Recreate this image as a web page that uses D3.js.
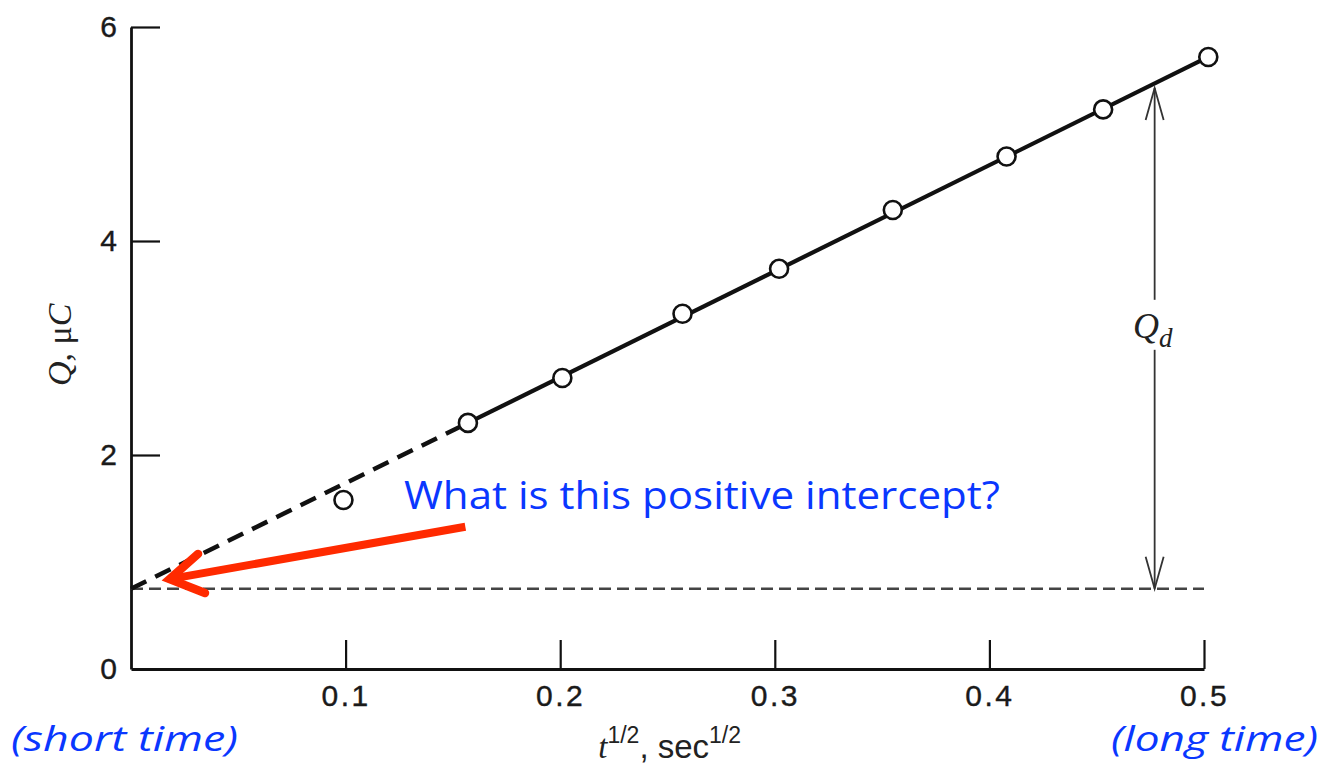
<!DOCTYPE html>
<html>
<head>
<meta charset="utf-8">
<script src="https://cdn.jsdelivr.net/npm/d3@7"></script>
<style>
  html, body { margin: 0; padding: 0; background: #fff; }
  svg { display: block; }
</style>
</head>
<body>
<svg id="chart" width="1324" height="765"></svg>
<script>
// Chronocoulometric charge Q vs t^1/2
const tHalf  = [0.099, 0.157, 0.201, 0.257, 0.302, 0.355, 0.408, 0.453, 0.502];
const charge = [1.58, 2.30, 2.72, 3.32, 3.74, 4.29, 4.79, 5.23, 5.72];

// Linear fit: extrapolated (dashed) part and fitted (solid) part
const fitDashed = [[0, 0.75], [0.157, 2.30]];
const fitSolid  = [[0.157, 2.30], [0.502, 5.72]];

// Intercept level (dashed reference) and the Q_d span
const interceptQ = 0.75;
const baselineX  = [0, 0.5];
const qdX = 0.477, qdTop = 5.43, qdLabelQ = 3.17;

// Annotation arrow: from the question text toward the intercept
const noteArrow = [[0.1558, 1.33], [0.018, 0.84]];

const xTicks = [0.1, 0.2, 0.3, 0.4, 0.5];
const yTicks = [0, 2, 4, 6];

const svg = d3.select("#chart");
const x = d3.scaleLinear().domain([0, 0.5]).range([131, 1204]);
const y = d3.scaleLinear().domain([0, 6]).range([669, 27]);

const ink = "#111";

// Axes
const xAxis = svg.append("g").attr("transform", `translate(0,${y(0)})`)
  .call(d3.axisBottom(x).tickValues(xTicks).tickFormat(d3.format(".1f"))
    .tickSizeInner(-29).tickSizeOuter(0).tickPadding(16));
const yAxis = svg.append("g").attr("transform", `translate(${x(0)},0)`)
  .call(d3.axisLeft(y).tickValues(yTicks).tickFormat(d3.format("d"))
    .tickSizeInner(-29).tickSizeOuter(0).tickPadding(14));

[xAxis, yAxis].forEach(g => {
  g.attr("font-size", null).attr("font-family", null);
  g.select(".domain").attr("stroke", ink).attr("stroke-width", 2.8);
  g.selectAll(".tick line").attr("stroke", ink).attr("stroke-width", 2.2);
  g.selectAll(".tick text").attr("fill", "#1a1a1a")
    .attr("stroke", "#1a1a1a").attr("stroke-width", 0.4)
    .style("font-family", "'Liberation Sans', Arial, sans-serif")
    .style("font-size", "30px");
});
xAxis.selectAll(".tick text").style("letter-spacing", "2.5px");
yAxis.select(".tick line").filter(d => d === 0).remove();

// Horizontal dashed line at the intercept level
svg.append("line")
  .attr("x1", x(baselineX[0])).attr("x2", x(baselineX[1]))
  .attr("y1", y(interceptQ)).attr("y2", y(interceptQ))
  .attr("stroke", "#444").attr("stroke-width", 2.6)
  .attr("stroke-dasharray", "12,6");

// Fit line
const line = d3.line().x(d => x(d[0])).y(d => y(d[1]));
svg.append("path").datum(fitDashed).attr("d", line)
  .attr("fill", "none").attr("stroke", ink).attr("stroke-width", 4.5)
  .attr("stroke-dasharray", "17,10");
svg.append("path").datum(fitSolid).attr("d", line)
  .attr("fill", "none").attr("stroke", ink).attr("stroke-width", 4.2);

// Data points
svg.append("g").selectAll("circle")
  .data(tHalf.map((t, i) => [t, charge[i]]))
  .join("circle")
  .attr("cx", d => x(d[0])).attr("cy", d => y(d[1])).attr("r", 9)
  .attr("fill", "#fff").attr("stroke", ink).attr("stroke-width", 2.6);

// Q_d double-headed arrow
const qx = x(qdX);
const qGap = [y(qdLabelQ) - 30, y(qdLabelQ) + 20];
const qd = svg.append("g").attr("stroke", "#333").attr("stroke-width", 1.8).attr("fill", "none");
qd.append("line").attr("x1", qx).attr("x2", qx).attr("y1", y(qdTop)).attr("y2", qGap[0]);
qd.append("line").attr("x1", qx).attr("x2", qx).attr("y1", qGap[1]).attr("y2", y(interceptQ));
qd.append("path").attr("d", `M${qx - 9},${y(qdTop) + 32}L${qx},${y(qdTop)}L${qx + 9},${y(qdTop) + 32}`);
qd.append("path").attr("d", `M${qx - 9},${y(interceptQ) - 32}L${qx},${y(interceptQ)}L${qx + 9},${y(interceptQ) - 32}`);

const qdText = svg.append("text")
  .attr("x", qx - 2).attr("y", y(qdLabelQ) + 8)
  .attr("text-anchor", "middle").attr("fill", "#222")
  .style("font-family", "'Liberation Serif', 'DejaVu Serif', serif")
  .style("font-style", "italic").style("font-size", "36px");
qdText.append("tspan").text("Q");
qdText.append("tspan").text("d").attr("dy", 9).style("font-size", "27px");

// Axis titles
const yTitle = svg.append("text")
  .attr("transform", `translate(71,${y(3.03)}) rotate(-90)`)
  .attr("text-anchor", "middle").attr("fill", "#222")
  .style("font-family", "'Liberation Serif', 'DejaVu Serif', serif")
  .style("font-size", "34px");
yTitle.append("tspan").text("Q").style("font-style", "italic");
yTitle.append("tspan").text(", μ");
yTitle.append("tspan").text("C").style("font-style", "italic");

const xTitle = svg.append("text")
  .attr("x", x(0.251)).attr("y", 758)
  .attr("text-anchor", "middle").attr("fill", "#222")
  .style("font-family", "'Liberation Sans', Arial, sans-serif")
  .style("font-size", "33px");
xTitle.append("tspan").text("t").style("font-family", "'Liberation Serif', serif").style("font-style", "italic");
xTitle.append("tspan").text("1/2").attr("dy", -15).style("font-size", "23px");
xTitle.append("tspan").text(", sec").attr("dy", 15);
xTitle.append("tspan").text("1/2").attr("dy", -15).style("font-size", "23px");

// Red annotation arrow
const red = "#ff2a00";
const p0 = [x(noteArrow[0][0]), y(noteArrow[0][1])];
const p1 = [x(noteArrow[1][0]), y(noteArrow[1][1])];
const ang = Math.atan2(p0[1] - p1[1], p0[0] - p1[0]);
const headLen = 38, headAng = 0.55;
const w1 = [p1[0] + headLen * Math.cos(ang - headAng), p1[1] + headLen * Math.sin(ang - headAng)];
const w2 = [p1[0] + headLen * Math.cos(ang + headAng), p1[1] + headLen * Math.sin(ang + headAng)];
svg.append("line")
  .attr("x1", p0[0]).attr("y1", p0[1]).attr("x2", p1[0] + 4 * Math.cos(ang)).attr("y2", p1[1] + 4 * Math.sin(ang))
  .attr("stroke", red).attr("stroke-width", 8);
svg.append("path")
  .attr("d", `M${w1[0]},${w1[1]}L${p1[0]},${p1[1]}L${w2[0]},${w2[1]}`)
  .attr("fill", "none").attr("stroke", red).attr("stroke-width", 8.5)
  .attr("stroke-linejoin", "miter").attr("stroke-linecap", "round");

// Blue annotations
const blue = "#0a37ff";
svg.append("text")
  .attr("x", 404).attr("y", 509)
  .attr("fill", blue)
  .attr("textLength", 596).attr("lengthAdjust", "spacingAndGlyphs")
  .style("font-family", "'Open Sans', 'Noto Sans', sans-serif")
  .style("font-size", "39px")
  .text("What is this positive intercept?");
svg.append("text")
  .attr("x", 11).attr("y", 751)
  .attr("fill", blue)
  .attr("textLength", 227).attr("lengthAdjust", "spacingAndGlyphs")
  .style("font-family", "'Open Sans', 'Noto Sans', sans-serif")
  .style("font-style", "italic").style("font-size", "35px")
  .text("(short time)");
svg.append("text")
  .attr("x", 1111).attr("y", 751)
  .attr("fill", blue)
  .attr("textLength", 207).attr("lengthAdjust", "spacingAndGlyphs")
  .style("font-family", "'Open Sans', 'Noto Sans', sans-serif")
  .style("font-style", "italic").style("font-size", "35px")
  .text("(long time)");
</script>
</body>
</html>
